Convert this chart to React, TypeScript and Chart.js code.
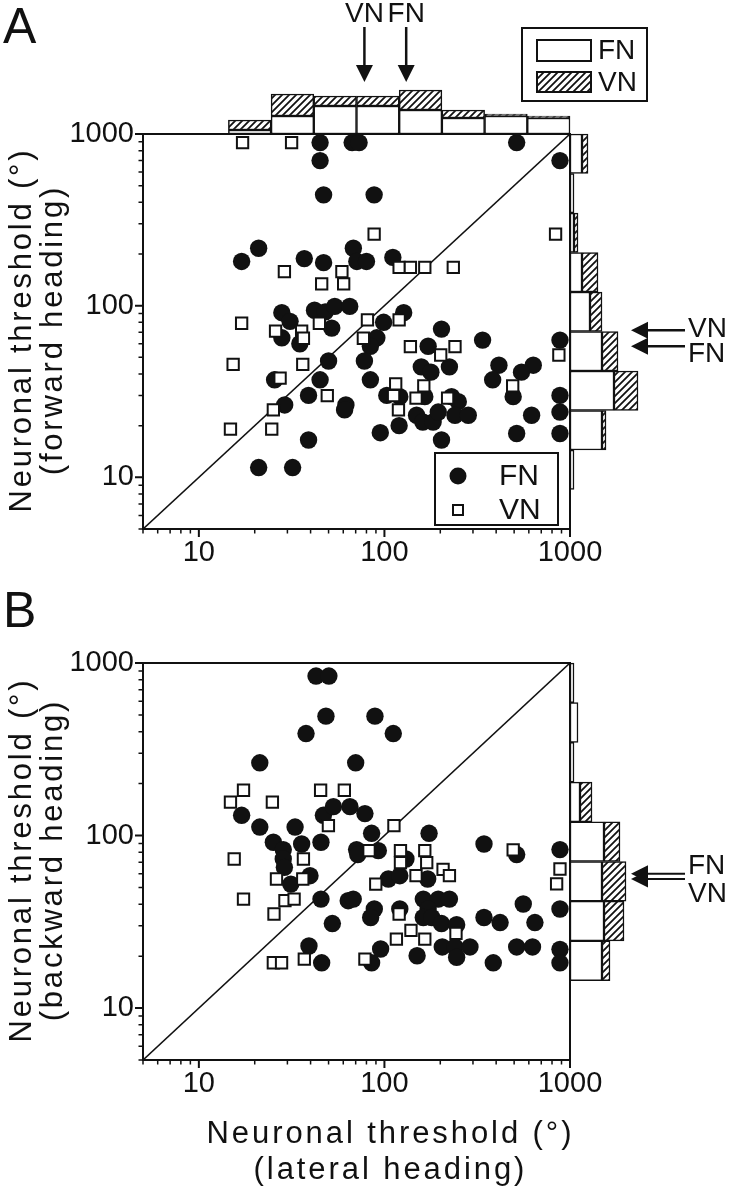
import React, { useEffect, useRef } from "react";
import { Chart, registerables } from "chart.js";

Chart.register(...registerables);

const INK = "#111";
const FONT = "'Liberation Sans', Arial, sans-serif";

// ---------- axis values ----------
const AXIS_MIN = 5;
const AXIS_MAX = 1000;
const TICK_LABELS = [10, 100, 1000];
const MINOR_TICKS = [5, 6, 7, 8, 9, 20, 30, 40, 50, 60, 70, 80, 90, 200, 300, 400, 500, 600, 700, 800, 900];
const DIAGONAL = [5, 1000];

// ---------- histogram bins (log-spaced, 5 .. 1000) ----------
const BIN_LABELS = ["5–8.5", "8.5–14", "14–25", "25–42", "42–71", "71–120", "120–204", "204–347", "347–589", "589–1000"];
const A_TOP_FN = [0, 0, 2, 9, 14, 14, 12, 8, 9, 8];
const A_TOP_VN = [0, 0, 5, 11, 5, 5, 10, 4, 1, 1];
const A_RIGHT_FN = [0, 2, 16, 22, 16, 10, 6, 2, 2, 6];
const A_RIGHT_VN = [0, 0, 2, 12, 8, 6, 8, 2, 0, 3];
const B_RIGHT_FN = [0, 0, 16, 17, 16, 17, 5, 2, 4, 2];
const B_RIGHT_VN = [0, 0, 4, 10, 12, 8, 6, 0, 0, 0];

// ---------- medians (arrows) ----------
const A_MEDIAN_LATERAL = { VN: 78, FN: 131 };
const A_MEDIAN_FORWARD = { VN: 72, FN: 58 };
const B_MEDIAN_BACKWARD = { FN: 60, VN: 56 };

// ---------- Panel A: lateral (x) vs forward (y) ----------
const A_FN_LATERAL = [45, 67, 73, 516, 45, 883, 47, 88, 21, 17, 37, 47, 68, 71, 80, 111, 28, 31, 28, 35, 42, 48, 54, 65, 52, 127, 99, 91, 84, 203, 338, 883, 172, 50, 78, 158, 178, 224, 414, 634, 548, 383, 45, 25.6, 84, 39, 29, 62, 61, 103, 121, 165, 230, 250, 494, 883, 149, 161, 183, 195, 240, 283, 120, 621, 883, 39, 95, 203, 516, 883, 21, 32];
const A_FN_FORWARD = [891, 891, 891, 891, 700, 700, 442, 442, 216, 181, 188, 178, 216, 181, 181, 191, 91, 81, 65, 60, 94, 92, 99, 99, 74, 91, 80, 65, 58, 73, 63, 63, 58, 47.6, 47.6, 44, 41, 44, 45, 45, 41, 37, 37, 37, 37, 30, 26.4, 26.4, 24.7, 30, 29.5, 29.5, 29.5, 27.6, 29.5, 30, 23, 21, 21, 24, 23, 23, 20, 23, 24, 16.5, 18.2, 16.5, 18, 18, 11.4, 11.4];
const A_VN_LATERAL = [17.2, 31.6, 88, 836, 28.9, 59, 45.9, 60.3, 120, 138, 165, 235, 17, 44.6, 81, 120, 25.9, 35.8, 36.6, 77, 15.3, 36.3, 27.4, 49.2, 25.2, 14.8, 24.7, 138, 201, 240, 871, 115, 112, 163, 148, 119, 219, 491];
const A_VN_FORWARD = [891, 891, 261, 261, 158, 158, 134, 134, 167, 167, 167, 167, 79, 79, 82.6, 82.6, 71, 71, 64.6, 64.6, 45.5, 45.5, 37.8, 29.9, 24.7, 19.1, 19.1, 57.7, 51.6, 57.7, 51.6, 35, 29.9, 34.1, 28.9, 24.7, 28.9, 34.1];

// ---------- Panel B: lateral (x) vs backward (y) ----------
const B_FN_LATERAL = [42.8, 50.2, 48.4, 88.9, 37.8, 111.6, 21.3, 70, 17, 21.3, 33, 25.2, 28.5, 28.5, 28.9, 31.3, 35.8, 39.7, 45.5, 46.9, 53.1, 65.2, 78.5, 85.3, 70.8, 71.8, 92.7, 174, 344, 516, 883, 130.6, 105, 121, 171, 45.5, 63.8, 67.9, 88.2, 84.3, 121, 162, 195, 224, 172, 162, 180, 203, 245, 560, 883, 344, 420, 647, 52.4, 39.2, 45.9, 85.3, 95.4, 150, 205, 240, 245, 289, 386, 516, 628, 883, 883];
const B_FN_BACKWARD = [840, 840, 492, 492, 390, 390, 264, 264, 131, 112, 112, 91.4, 82.9, 73.1, 65.4, 52.3, 89.3, 58.5, 91.4, 131, 147, 147, 134, 103, 82.9, 77.6, 81.8, 103, 89.3, 77.6, 82.9, 73.1, 56, 58.5, 56, 42.8, 41.9, 42.8, 37.5, 33.5, 37.5, 42.8, 42.8, 42.8, 37.5, 33.5, 33.5, 30.9, 30.4, 40.1, 37.5, 33.5, 31.3, 31.3, 30.9, 22.9, 18.3, 18.3, 22, 20.1, 22.6, 22.6, 19.7, 22.6, 18.3, 22.6, 22.6, 21.9, 18.3];
const B_VN_LATERAL = [17.4, 14.8, 24.9, 45.3, 60.8, 49.9, 112.5, 15.5, 36.6, 82.6, 122, 165, 122, 169, 207, 224, 148, 26.2, 36.3, 89.8, 494, 883, 847, 17.4, 29.1, 32.6, 25.4, 120, 139, 243, 116, 165, 25.2, 27.9, 37, 78.5];
const B_VN_BACKWARD = [183, 156, 156, 183, 183, 114, 114, 73.1, 73.1, 81.8, 81.8, 81.8, 69.6, 69.6, 63.6, 58.5, 58.5, 56, 56, 52.3, 82.6, 64, 52.5, 42.8, 41.9, 42.8, 35.1, 35.1, 28.2, 27.1, 25.1, 25.1, 18.3, 18.3, 19.2, 19.2];

// ---------- layout ----------
const PAGE_W = 731;
const PAGE_H = 1199;
const PLOT_LEFT = 143;
const PLOT_RIGHT = 570;
const A_CANVAS = { top: 0, height: 570, plotTop: 134, plotBottom: 529 };
const B_CANVAS = { top: 570, height: 629, plotTop: 663, plotBottom: 1060 };

const pts = (xs: number[], ys: number[]) => xs.map((x, i) => ({ x, y: ys[i] }));

function makeHatch(): CanvasPattern | string {
  const c = document.createElement("canvas");
  c.width = 7;
  c.height = 7;
  const g = c.getContext("2d");
  if (!g) return "#888";
  g.fillStyle = "#fff";
  g.fillRect(0, 0, 7, 7);
  g.strokeStyle = INK;
  g.lineWidth = 1.8;
  g.beginPath();
  g.moveTo(-1, 8);
  g.lineTo(8, -1);
  g.moveTo(-1, 1);
  g.lineTo(1, -1);
  g.moveTo(6, 8);
  g.lineTo(8, 6);
  g.stroke();
  return g.createPattern(c, "repeat") || "#888";
}

function text(ctx: CanvasRenderingContext2D, s: string, x: number, y: number, size: number, align: CanvasTextAlign = "left", baseline: CanvasTextBaseline = "middle") {
  ctx.save();
  ctx.font = `${size}px ${FONT}`;
  ctx.fillStyle = INK;
  ctx.textAlign = align;
  ctx.textBaseline = baseline;
  ctx.fillText(s, x, y);
  ctx.restore();
}

function spacingFor(ctx: CanvasRenderingContext2D, s: string, size: number, target: number) {
  ctx.save();
  ctx.font = `${size}px ${FONT}`;
  (ctx as any).letterSpacing = "0px";
  const w = ctx.measureText(s).width;
  ctx.restore();
  return Math.max(0, (target - w) / (s.length - 1));
}

function spacedText(ctx: CanvasRenderingContext2D, s: string, cx: number, cy: number, size: number, spacing: number, rot = 0) {
  ctx.save();
  ctx.font = `${size}px ${FONT}`;
  (ctx as any).letterSpacing = "0px";
  const w0 = ctx.measureText(s).width;
  const w = w0 + spacing * (s.length - 1);
  (ctx as any).letterSpacing = `${spacing}px`;
  ctx.translate(cx, cy);
  ctx.rotate(rot);
  ctx.fillStyle = INK;
  ctx.textAlign = "left";
  ctx.textBaseline = "middle";
  ctx.fillText(s, -w / 2, 0);
  ctx.restore();
}

function arrowDown(ctx: CanvasRenderingContext2D, x: number, y0: number, tip: number) {
  ctx.save();
  ctx.strokeStyle = INK;
  ctx.fillStyle = INK;
  ctx.lineWidth = 2.5;
  ctx.beginPath();
  ctx.moveTo(x, y0);
  ctx.lineTo(x, tip - 14);
  ctx.stroke();
  ctx.beginPath();
  ctx.moveTo(x - 8.5, tip - 17);
  ctx.lineTo(x + 8.5, tip - 17);
  ctx.lineTo(x, tip);
  ctx.closePath();
  ctx.fill();
  ctx.restore();
}

function arrowLeft(ctx: CanvasRenderingContext2D, tip: number, tail: number, y: number, lw = 2.5) {
  ctx.save();
  ctx.strokeStyle = INK;
  ctx.fillStyle = INK;
  ctx.lineWidth = lw;
  ctx.beginPath();
  ctx.moveTo(tip + 14, y);
  ctx.lineTo(tail, y);
  ctx.stroke();
  ctx.beginPath();
  ctx.moveTo(tip + 17, y - 8.5);
  ctx.lineTo(tip + 17, y + 8.5);
  ctx.lineTo(tip, y);
  ctx.closePath();
  ctx.fill();
  ctx.restore();
}

function yTitle(ctx: CanvasRenderingContext2D, line2: string, cy: number) {
  const line1 = "Neuronal threshold (°)";
  const sp = spacingFor(ctx, line1, 31, 362);
  spacedText(ctx, line1, 22, cy, 31, sp, -Math.PI / 2);
  spacedText(ctx, line2, 53, cy, 31, sp, -Math.PI / 2);
}

const framePlugin = {
  id: "frameTicks",
  beforeDatasetsDraw(chart: any) {
    const { ctx, chartArea: a, scales } = chart;
    const x = scales.x;
    const y = scales.y;
    ctx.save();
    ctx.strokeStyle = INK;
    ctx.lineWidth = 2;
    ctx.strokeRect(a.left, a.top, a.right - a.left, a.bottom - a.top);
    ctx.lineWidth = 2;
    ctx.beginPath();
    for (const v of TICK_LABELS) {
      const py = y.getPixelForValue(v);
      ctx.moveTo(a.left - 8, py);
      ctx.lineTo(a.left, py);
      const px = x.getPixelForValue(v);
      ctx.moveTo(px, a.bottom);
      ctx.lineTo(px, a.bottom + 8);
    }
    ctx.stroke();
    ctx.lineWidth = 1.5;
    ctx.beginPath();
    for (const v of MINOR_TICKS) {
      const py = y.getPixelForValue(v);
      ctx.moveTo(a.left - 4.5, py);
      ctx.lineTo(a.left, py);
      const px = x.getPixelForValue(v);
      ctx.moveTo(px, a.bottom);
      ctx.lineTo(px, a.bottom + 4.5);
    }
    ctx.stroke();
    ctx.restore();
  },
};

function logAxis(axis: "x" | "y", size: number) {
  return {
    type: "logarithmic",
    position: axis === "x" ? "bottom" : "left",
    min: AXIS_MIN,
    max: AXIS_MAX,
    grid: { display: false, drawTicks: false, drawOnChartArea: false },
    border: { display: false },
    ticks: {
      color: INK,
      font: { family: FONT, size: 29 },
      padding: axis === "x" ? 7 : 9,
      maxRotation: 0,
      autoSkip: false,
      callback: (v: any) => String(v),
    },
    afterBuildTicks: (s: any) => {
      s.ticks = TICK_LABELS.map((v) => ({ value: v }));
    },
    afterFit: (s: any) => {
      if (axis === "x") s.height = size;
      else s.width = size;
    },
  };
}

function scatterConfig(layout: typeof A_CANVAS, fn: { x: number; y: number }[], vn: { x: number; y: number }[], annotate: (chart: any) => void): any {
  return {
    type: "scatter",
    data: {
      datasets: [
        { label: "VN", data: vn, pointStyle: "rect", pointRadius: 8, backgroundColor: "#fff", borderColor: INK, borderWidth: 2, order: 0, clip: false },
        { label: "FN", data: fn, pointStyle: "circle", pointRadius: 8.7, backgroundColor: INK, borderWidth: 0, order: 1, clip: false },
        { label: "unity", data: DIAGONAL.map((v) => ({ x: v, y: v })), showLine: true, borderColor: INK, borderWidth: 1.6, pointRadius: 0, order: 2 },
      ],
    },
    options: {
      responsive: false,
      animation: false,
      events: [],
      layout: { padding: { left: 0, top: layout.plotTop - layout.top, right: PAGE_W - PLOT_RIGHT, bottom: 0 } },
      plugins: { legend: { display: false }, tooltip: { enabled: false } },
      scales: {
        x: logAxis("x", layout.top + layout.height - layout.plotBottom),
        y: logAxis("y", PLOT_LEFT),
      },
    },
    plugins: [framePlugin, { id: "annotate", afterDraw: annotate }],
  };
}

function histConfig(horizontal: boolean, fn: number[], vn: number[], max: number, hatch: any): any {
  const common = { borderColor: INK, borderWidth: 1.5, borderSkipped: false, barPercentage: 1, categoryPercentage: 1, clip: false };
  return {
    type: "bar",
    data: {
      labels: BIN_LABELS,
      datasets: [
        { label: "FN", data: fn, backgroundColor: "#fff", ...common },
        { label: "VN", data: vn, backgroundColor: hatch, ...common },
      ],
    },
    options: {
      indexAxis: horizontal ? "y" : "x",
      responsive: false,
      animation: false,
      events: [],
      layout: { padding: 4 },
      plugins: { legend: { display: false }, tooltip: { enabled: false } },
      scales: horizontal
        ? {
            y: { type: "category", display: false, reverse: true, stacked: true, offset: true },
            x: { type: "linear", display: false, min: 0, max, stacked: true },
          }
        : {
            x: { type: "category", display: false, stacked: true, offset: true },
            y: { type: "linear", display: false, min: 0, max, stacked: true },
          },
    },
  };
}

export default function App() {
  const aRef = useRef<HTMLCanvasElement>(null);
  const aTopRef = useRef<HTMLCanvasElement>(null);
  const aRightRef = useRef<HTMLCanvasElement>(null);
  const bRef = useRef<HTMLCanvasElement>(null);
  const bRightRef = useRef<HTMLCanvasElement>(null);

  useEffect(() => {
    const hatch = makeHatch();

    const annotateA = (chart: any) => {
      const { ctx, scales } = chart;
      const x = scales.x;
      const y = scales.y;
      text(ctx, "A", 3, 43, 50, "left", "alphabetic");
      // top arrows (medians, lateral)
      (["VN", "FN"] as const).forEach((k) => {
        const px = x.getPixelForValue(A_MEDIAN_LATERAL[k]);
        arrowDown(ctx, px, 27, 82);
        text(ctx, k, px, 14, 28, "center", "middle");
      });
      // right arrows (medians, forward)
      const yVN = y.getPixelForValue(A_MEDIAN_FORWARD.VN);
      const yFN = y.getPixelForValue(A_MEDIAN_FORWARD.FN);
      arrowLeft(ctx, 631, 685, yVN);
      arrowLeft(ctx, 631, 685, yFN);
      text(ctx, "VN", 688, yVN - 1, 28);
      text(ctx, "FN", 688, yFN + 8, 28);
      // histogram legend
      ctx.save();
      ctx.strokeStyle = INK;
      ctx.lineWidth = 2;
      ctx.strokeRect(522, 28, 125, 73);
      ctx.fillStyle = "#fff";
      ctx.fillRect(537, 40, 54, 21);
      ctx.strokeRect(537, 40, 54, 21);
      ctx.fillStyle = hatch as any;
      ctx.fillRect(537, 72, 54, 20);
      ctx.strokeRect(537, 72, 54, 20);
      ctx.restore();
      text(ctx, "FN", 598, 51, 28);
      text(ctx, "VN", 598, 83, 28);
      // scatter legend
      ctx.save();
      ctx.fillStyle = "#fff";
      ctx.fillRect(435, 453, 123, 72);
      ctx.strokeStyle = INK;
      ctx.lineWidth = 2;
      ctx.strokeRect(435, 453, 123, 72);
      ctx.fillStyle = INK;
      ctx.beginPath();
      ctx.arc(458, 476, 8.5, 0, Math.PI * 2);
      ctx.fill();
      ctx.fillStyle = "#fff";
      ctx.fillRect(453, 505, 10, 10);
      ctx.strokeRect(453, 505, 10, 10);
      ctx.restore();
      text(ctx, "FN", 499, 477, 30);
      text(ctx, "VN", 499, 511, 30);
      // y title
      yTitle(ctx, "(forward heading)", (A_CANVAS.plotTop + A_CANVAS.plotBottom) / 2 - A_CANVAS.top);
    };

    const annotateB = (chart: any) => {
      const { ctx, scales } = chart;
      const y = scales.y;
      const oy = B_CANVAS.top;
      text(ctx, "B", 3, 627 - oy, 50, "left", "alphabetic");
      const yFN = y.getPixelForValue(B_MEDIAN_BACKWARD.FN);
      const yVN = y.getPixelForValue(B_MEDIAN_BACKWARD.VN);
      arrowLeft(ctx, 631, 685, yFN, 2);
      arrowLeft(ctx, 631, 685, yVN, 2);
      text(ctx, "FN", 688, yFN - 8, 28);
      text(ctx, "VN", 688, yVN + 15, 28);
      yTitle(ctx, "(backward heading)", (B_CANVAS.plotTop + B_CANVAS.plotBottom) / 2 - oy);
      const line1 = "Neuronal threshold (°)";
      const sp = spacingFor(ctx, line1, 31, 365);
      spacedText(ctx, line1, 389, 1134 - oy, 31, sp);
      spacedText(ctx, "(lateral heading)", 389, 1170 - oy, 31, sp);
    };

    const charts = [
      new Chart(aRef.current as HTMLCanvasElement, scatterConfig(A_CANVAS, pts(A_FN_LATERAL, A_FN_FORWARD), pts(A_VN_LATERAL, A_VN_FORWARD), annotateA)),
      new Chart(bRef.current as HTMLCanvasElement, scatterConfig(B_CANVAS, pts(B_FN_LATERAL, B_FN_BACKWARD), pts(B_VN_LATERAL, B_VN_BACKWARD), annotateB)),
      new Chart(aTopRef.current as HTMLCanvasElement, histConfig(false, A_TOP_FN, A_TOP_VN, 30, hatch)),
      new Chart(aRightRef.current as HTMLCanvasElement, histConfig(true, A_RIGHT_FN, A_RIGHT_VN, 40, hatch)),
      new Chart(bRightRef.current as HTMLCanvasElement, histConfig(true, B_RIGHT_FN, B_RIGHT_VN, 40, hatch)),
    ];
    return () => charts.forEach((c) => c.destroy());
  }, []);

  const abs = (left: number, top: number, width: number, height: number): React.CSSProperties => ({ position: "absolute", left, top, width, height });

  return (
    <div style={{ position: "absolute", left: 0, top: 0, width: PAGE_W, height: PAGE_H, background: "#fff", overflow: "hidden" }}>
      <canvas ref={aRef} width={PAGE_W} height={A_CANVAS.height} style={abs(0, A_CANVAS.top, PAGE_W, A_CANVAS.height)} />
      <canvas ref={bRef} width={PAGE_W} height={B_CANVAS.height} style={abs(0, B_CANVAS.top, PAGE_W, B_CANVAS.height)} />
      <canvas ref={aTopRef} width={435} height={68} style={abs(139, 70, 435, 68)} />
      <canvas ref={aRightRef} width={88} height={403} style={abs(566, 130, 88, 403)} />
      <canvas ref={bRightRef} width={88} height={405} style={abs(566, 659, 88, 405)} />
    </div>
  );
}
